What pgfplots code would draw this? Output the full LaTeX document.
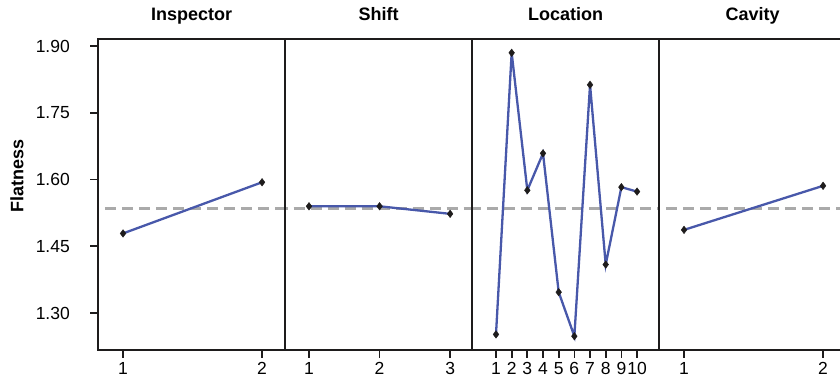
\documentclass[border=0pt]{standalone}
\usepackage{pgfplots}
\pgfplotsset{compat=1.18}
\usepackage{fontspec}
\setmainfont{Liberation Sans}
\definecolor{lineblue}{RGB}{72,88,170}
\definecolor{framecol}{RGB}{30,28,28}
\definecolor{meangray}{RGB}{170,170,170}
\tikzset{panelframe/.style={framecol, line width=2.9pt}}
\pgfplotsset{
 panel/.style={
  scale only axis, width=187pt, height=311pt, anchor=south west,
  ymin=1.217, ymax=1.916,
  ytick=\empty, clip mode=individual,
  axis line style={line width=2.4pt, framecol},
  tick style={line width=1.7pt, framecol},
  xtick pos=bottom, ytick pos=left, tick align=outside, major tick length=8pt,
  xticklabel style={font=\fontsize{17.5}{20}\selectfont, anchor=base, yshift=-17pt, inner sep=0pt},
  yticklabel style={font=\fontsize{17.5}{20}\selectfont, anchor=east, inner sep=0pt, xshift=-20pt},
  title style={font=\fontsize{18}{20}\selectfont\bfseries, at={(0.5,1)}, anchor=base, yshift=12pt, inner sep=0pt},
  /pgf/number format/assume math mode=true,
 },
 meanline/.style={meangray, line width=2.2pt, dash pattern=on 11pt off 6pt, forget plot},
 series/.style={lineblue, line width=2.3pt, mark=diamond*, mark size=3.8pt, mark options={fill=framecol, draw=framecol, solid, line width=0.4pt}},
}
\begin{document}
\begin{tikzpicture}
\path[use as bounding box] (0pt,0pt) rectangle (840pt,379pt);
% Inspector
\begin{axis}[panel, at={(98pt,29pt)}, xmin=0.82, xmax=2.165, xtick={1,2},
  ytick={1.30,1.45,1.60,1.75,1.90}, yticklabels={1.30,1.45,1.60,1.75,1.90},
  title={Inspector}]
\addplot[meanline] coordinates {(-5,1.535) (15,1.535)};
\addplot[series] coordinates {(1,1.479) (2,1.594)};
\draw[panelframe] (rel axis cs:0,0) rectangle (rel axis cs:1,1);
\end{axis}
% Shift
\begin{axis}[panel, at={(285pt,29pt)}, xmin=0.66, xmax=3.31, xtick={1,2,3},
  title={Shift}]
\addplot[meanline] coordinates {(-5,1.535) (15,1.535)};
\addplot[series] coordinates {(1,1.540) (2,1.540) (3,1.523)};
\draw[panelframe] (rel axis cs:0,0) rectangle (rel axis cs:1,1);
\end{axis}
% Location
\begin{axis}[panel, at={(472pt,29pt)}, xmin=-0.53, xmax=11.4, xtick={1,2,3,4,5,6,7,8,9,10},
  title={Location}]
\addplot[meanline] coordinates {(-5,1.535) (15,1.535)};
\addplot[series] coordinates {(1,1.252) (2,1.885) (3,1.576) (4,1.659) (5,1.347) (6,1.248) (7,1.813) (8,1.409) (9,1.583) (10,1.573)};
\draw[panelframe] (rel axis cs:0,0) rectangle (rel axis cs:1,1);
\end{axis}
% Cavity
\begin{axis}[panel, at={(659pt,29pt)}, xmin=0.82, xmax=2.165, xtick={1,2},
  title={Cavity}]
\addplot[meanline] coordinates {(-5,1.535) (15,1.535)};
\addplot[series] coordinates {(1,1.487) (2,1.586)};
\draw[panelframe] (rel axis cs:0,0) rectangle (rel axis cs:1,1);
\end{axis}
\node[rotate=90, font=\fontsize{18}{20}\selectfont\bfseries] at (17pt,203pt) {Flatness};
\end{tikzpicture}
\end{document}
